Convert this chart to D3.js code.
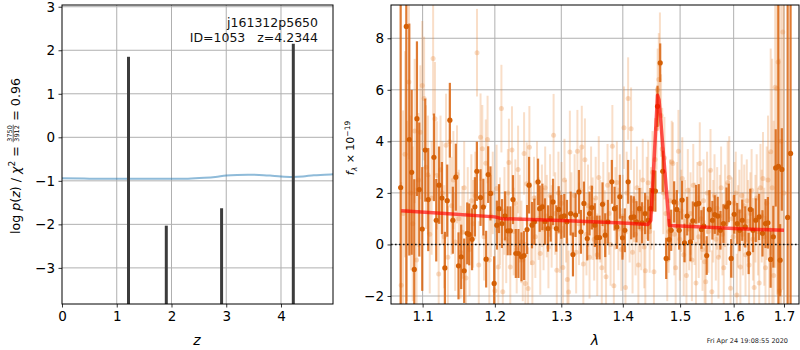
<!DOCTYPE html>
<html><head><meta charset="utf-8">
<script src="https://cdn.jsdelivr.net/npm/d3@7"></script>
<style>
body{margin:0;background:#fff}
svg{display:block;font-family:"DejaVu Sans",sans-serif}
</style>
</head><body>
<svg id="chart" width="800" height="350"></svg>
<script>
// ---------- redshift panel ----------
// chi^2 curve (scaled), sampled in z
const chiZ   = [0, 0.5, 1.0, 1.5, 2.0, 2.3, 2.6, 2.8, 3.0, 3.2, 3.4, 3.6, 3.8, 4.0, 4.2, 4.4, 4.6, 4.8, 4.95];
const chiVal = [-0.94, -0.95, -0.955, -0.955, -0.955, -0.95, -0.93, -0.91, -0.88, -0.865, -0.86, -0.865, -0.88, -0.9, -0.91, -0.9, -0.87, -0.86, -0.85];
// log p(z) peaks
const peakZ    = [1.215, 1.905, 2.915, 4.225];
const peakLogP = [1.85, -2.03, -1.63, 2.15];
const zTicks = [0, 1, 2, 3, 4];
const pTicks = [-3, -2, -1, 0, 1, 2, 3];

// ---------- spectrum panel ----------
// binned spectrum: [wavelength (um), flux, error]
const darkSpec = [
[1.0713,2.21,20],[1.0786,8.46,20],[1.0825,4.07,4.5],[1.0856,2.80,3.2],[1.0890,-0.97,3.5],[1.0925,4.88,3.0],[1.0956,2.13,2.6],[1.0995,0.60,2.4],[1.1035,3.66,2.0],[1.1075,1.74,2.0],
[1.1151,3.38,1.7],[1.1182,0.94,1.6],[1.1220,2.30,1.5],[1.1259,1.80,1.4],[1.1299,-0.91,1.4],[1.1331,1.70,1.4],[1.1367,4.82,1.45],[1.1408,0.94,1.3],[1.1449,2.61,1.3],[1.1486,-0.83,1.3],
[1.1523,-0.48,1.25],[1.1565,-1.02,1.25],[1.1607,0.43,1.2],[1.1635,0.39,1.2],[1.1675,0.20,1.2],[1.1715,1.46,1.15],[1.1743,2.84,1.15],[1.1795,1.82,1.1],[1.1835,1.45,1.1],[1.1875,-0.57,1.1],
[1.1904,2.71,1.1],[1.1937,1.98,1.05],[1.1990,-1.51,1.05],
[1.2029,0.75,0.95],[1.2060,1.39,0.95],[1.2104,0.81,0.95],[1.2148,1.11,0.95],[1.2187,0.53,0.95],[1.2226,0.53,0.95],[1.2265,1.74,0.95],[1.2307,-0.35,0.95],[1.2346,-0.35,0.95],[1.2391,-0.48,0.95],
[1.2430,-0.43,0.95],[1.2475,0.58,0.95],[1.2505,2.30,1.1],[1.2550,0.75,0.9],[1.2585,0.88,0.9],[1.2641,2.43,0.9],[1.2666,1.39,0.9],[1.2707,1.46,0.9],[1.2747,0.89,0.9],[1.2794,0.62,0.9],
[1.2835,1.01,0.9],[1.2871,1.65,0.9],[1.2922,0.62,0.9],[1.2959,1.36,0.9],[1.3000,1.07,0.85],[1.3047,1.11,0.85],[1.3089,0.88,0.85],[1.3147,1.20,0.85],[1.3184,-0.39,0.85],[1.3226,1.14,0.85],
[1.3279,2.04,0.85],[1.3311,0.49,0.85],[1.3359,1.59,0.85],[1.3413,0.23,0.85],[1.3450,1.20,0.85],[1.3488,1.43,0.85],[1.3536,0.75,0.85],[1.3569,0.27,0.85],[1.3613,0.27,0.85],[1.3662,1.56,0.85],
[1.3706,0.36,0.85],[1.3750,0.88,0.85],[1.3816,2.43,0.85],[1.3861,1.39,0.85],[1.3899,0.68,0.85],[1.3950,1.85,0.85],[1.3994,0.26,0.85],[1.4034,0.55,0.85],[1.4090,2.43,0.85],[1.4141,1.05,0.85],
[1.4186,1.07,0.8],[1.4232,0.88,0.8],[1.4283,1.39,0.8],[1.4329,0.84,0.8],[1.4381,1.20,0.8],[1.4433,0.94,0.8],[1.4473,1.39,0.8],[1.4519,2.08,0.8],[1.4560,2.07,0.8],[1.4598,5.36,0.8],
[1.4645,7.05,0.75],[1.4690,2.84,0.8],[1.4751,-0.54,0.8],[1.4804,0.19,0.8],[1.4840,0.55,0.8],[1.4893,1.65,0.8],[1.4941,1.36,0.75],[1.4983,0.55,0.75],[1.5037,1.72,0.75],[1.5079,0.06,0.75],
[1.5128,1.10,0.75],[1.5188,0.10,0.75],[1.5231,0.92,0.75],[1.5292,1.56,0.75],[1.5341,1.59,0.75],[1.5390,0.58,0.75],[1.5434,0.71,0.75],[1.5489,-0.43,0.75],[1.5539,1.36,0.75],[1.5595,0.94,0.75],
[1.5640,1.16,0.75],[1.5696,1.10,0.75],[1.5747,0.55,0.75],[1.5804,0.81,0.75],[1.5862,1.46,0.75],[1.5906,1.61,0.75],[1.5952,-0.54,0.75],[1.6010,1.17,0.75],[1.6068,0.81,0.8],[1.6114,0.55,0.8],
[1.6166,0.94,0.8],[1.6225,0.68,0.8],[1.6291,-0.35,0.8],[1.6324,1.36,0.8],[1.6377,0.55,0.85],[1.6431,0.94,0.85],[1.6498,1.07,0.9],[1.6565,0.43,0.9],[1.6626,0.81,0.95],[1.6674,0.84,1.0],
[1.6728,-0.58,1.1],[1.6783,0.30,1.2],[1.6831,2.97,1.5],[1.6886,3.03,20],[1.6921,-0.61,1.4],[1.6956,2.91,1.6],[1.7075,1.05,20],[1.7135,3.53,20]
];
// native-resolution spectrum: [wavelength (um), flux, error]
const lightSpec = [
[1.0720,-1.58,4],[1.0745,1.2,4],[1.0770,3.5,4],[1.0795,1.3,3.5],[1.0820,6.3,3],[1.0845,2.0,3],[1.0870,0.8,3],[1.0895,4.4,2.8],[1.0920,-0.6,2.8],[1.0945,2.5,2.6],
[1.0970,4.35,2.6],[1.0995,6.17,2.5],[1.1020,5.66,2.4],[1.1045,3.0,2.4],[1.1070,2.7,2.3],[1.1095,0.4,2.3],[1.1120,1.8,2.2],[1.1140,7.21,2.2],[1.1165,4.88,2.2],[1.1190,2.68,2.1],
[1.1215,-1.15,2.1],[1.1240,2.9,2.1],[1.1265,2.0,2.0],[1.1290,0.3,2.0],[1.1315,3.85,2.0],[1.1340,-0.5,2.0],[1.1365,3.98,2.0],[1.1390,1.5,1.9],[1.1415,2.5,1.9],[1.1440,0.1,1.9],
[1.1465,2.72,1.9],[1.1490,1.0,1.9],[1.1515,-0.3,1.8],[1.1540,0.47,1.8],[1.1565,2.2,1.8],[1.1590,-1.3,1.8],[1.1615,1.2,1.8],[1.1640,-0.2,1.8],[1.1665,1.7,1.8],[1.1690,0.8,1.7],
[1.1720,1.9,1.7],[1.1745,7.44,1.7],[1.1770,-0.8,1.7],[1.1795,4.16,1.7],[1.1820,3.71,1.7],[1.1845,0.3,1.7],[1.1870,3.15,1.7],[1.1895,4.07,1.7],[1.1920,-0.6,1.7],[1.1945,1.1,1.6],
[1.1970,2.0,1.6],[1.2000,-1.8,1.6],[1.2025,2.17,1.7],[1.2050,-0.87,1.7],[1.2075,0.9,1.7],[1.2095,5.27,1.7],[1.2115,-1.83,1.7],[1.2140,1.3,1.7],[1.2165,0.2,1.7],[1.2190,2.0,1.7],
[1.2205,3.18,1.7],[1.2225,-0.87,1.7],[1.2250,3.66,1.7],[1.2275,0.5,1.7],[1.2300,1.6,1.7],[1.2320,-0.2,1.7],[1.2340,2.91,1.7],[1.2365,1.0,1.7],[1.2390,0.1,1.6],[1.2410,-0.6,1.6],
[1.2430,3.53,1.6],[1.2450,-1.51,1.6],[1.2470,2.36,1.6],[1.2490,-1.71,1.6],[1.2510,3.77,1.6],[1.2535,0.8,1.6],[1.2555,-0.71,1.6],[1.2580,1.8,1.6],[1.2600,0.3,1.6],[1.2625,2.4,1.6],
[1.2650,1.0,1.6],[1.2675,-0.35,1.6],[1.2700,1.5,1.6],[1.2725,0.6,1.6],[1.2750,2.2,1.6],[1.2775,1.1,1.6],[1.2800,-0.1,1.6],[1.2825,1.9,1.6],[1.2850,0.7,1.6],[1.2880,4.24,1.6],
[1.2905,1.2,1.6],[1.2930,-1.0,1.6],[1.2955,2.0,1.6],[1.2980,0.5,1.6],[1.3005,1.6,1.6],[1.3025,-0.89,1.6],[1.3050,2.5,1.6],[1.3075,0.9,1.6],[1.3095,-1.36,1.6],[1.3115,-1.84,1.6],
[1.3135,3.59,1.6],[1.3160,1.2,1.6],[1.3185,0.4,1.6],[1.3210,1.9,1.6],[1.3235,-0.3,1.6],[1.3255,3.62,1.6],[1.3280,0.8,1.6],[1.3305,2.1,1.6],[1.3325,3.78,1.6],[1.3350,-0.76,1.6],
[1.3375,3.29,1.6],[1.3400,0.4,1.6],[1.3425,1.5,1.6],[1.3450,-0.5,1.6],[1.3475,2.2,1.6],[1.3500,1.0,1.6],[1.3525,0.2,1.6],[1.3550,1.8,1.6],[1.3575,-0.4,1.6],[1.3600,2.6,1.6],
[1.3625,0.9,1.6],[1.3650,-0.9,1.6],[1.3675,1.6,1.6],[1.3700,0.5,1.6],[1.3720,-1.25,1.6],[1.3745,2.3,1.6],[1.3770,1.2,1.6],[1.3795,0.0,1.6],[1.3825,3.81,1.6],[1.3850,-1.6,1.6],
[1.3875,1.4,1.6],[1.3900,2.4,1.6],[1.3925,0.6,1.6],[1.3950,1.9,1.6],[1.3975,-0.2,1.6],[1.4000,1.1,1.6],[1.4020,4.53,1.6],[1.4045,-1.67,1.6],[1.4065,2.0,1.6],[1.4090,5.66,1.6],
[1.4115,0.9,1.6],[1.4140,4.49,1.6],[1.4165,-0.3,1.6],[1.4190,1.7,1.6],[1.4215,0.4,1.6],[1.4240,2.2,1.6],[1.4265,-0.8,1.6],[1.4290,1.3,1.6],[1.4315,0.6,1.6],[1.4340,2.5,1.6],
[1.4365,-0.1,1.6],[1.4385,-1.02,1.6],[1.4410,1.8,1.6],[1.4435,2.39,1.6],[1.4460,0.5,1.6],[1.4485,1.4,1.6],[1.4510,2.8,1.6],[1.4535,-1.06,1.6],[1.4555,3.3,1.6],[1.4580,4.5,1.6],
[1.4600,6.0,1.6],[1.4620,6.4,1.8],[1.4640,7.0,2.0],[1.4660,5.0,1.6],[1.4680,3.7,1.6],[1.4700,2.0,1.6],[1.4720,3.35,1.6],[1.4745,1.2,1.6],[1.4770,-0.6,1.6],[1.4795,0.5,1.6],
[1.4820,1.7,1.6],[1.4850,3.2,1.6],[1.4870,3.14,1.6],[1.4895,0.4,1.6],[1.4920,-0.9,1.6],[1.4945,1.6,1.6],[1.4970,3.62,1.6],[1.4995,0.2,1.6],[1.5020,1.3,1.6],[1.5040,2.56,1.6],
[1.5065,-0.4,1.6],[1.5090,0.9,1.6],[1.5115,-1.2,1.6],[1.5140,2.1,1.6],[1.5165,0.6,1.6],[1.5190,1.2,1.6],[1.5215,-0.6,1.6],[1.5240,2.3,1.6],[1.5265,0.8,1.6],[1.5290,-1.5,1.6],
[1.5315,1.6,1.6],[1.5340,0.3,1.6],[1.5360,3.14,1.6],[1.5385,1.0,1.6],[1.5410,-0.2,1.6],[1.5430,1.7,1.6],[1.5450,-0.67,1.6],[1.5470,-1.45,1.6],[1.5495,2.0,1.6],[1.5520,0.5,1.6],
[1.5545,1.3,1.6],[1.5560,2.88,1.6],[1.5585,-1.83,1.6],[1.5610,0.9,1.6],[1.5635,1.9,1.6],[1.5660,0.2,1.6],[1.5685,1.4,1.6],[1.5710,-0.5,1.6],[1.5735,1.1,1.6],[1.5760,2.2,1.6],
[1.5785,0.4,1.6],[1.5810,-0.9,1.6],[1.5835,1.5,1.6],[1.5860,0.8,1.6],[1.5885,2.4,1.6],[1.5915,2.6,1.6],[1.5940,-1.7,1.6],[1.5965,1.0,1.6],[1.5990,0.3,1.6],[1.6015,1.6,1.6],
[1.6040,2.0,1.6],[1.6060,-1.96,1.6],[1.6085,0.7,1.6],[1.6110,1.3,1.6],[1.6130,-0.87,1.6],[1.6155,1.9,1.6],[1.6180,0.4,1.6],[1.6205,1.5,1.6],[1.6230,-0.4,1.6],[1.6255,1.7,1.6],
[1.6280,0.9,1.6],[1.6300,-0.8,1.6],[1.6325,1.2,1.6],[1.6350,2.1,1.6],[1.6375,0.2,1.6],[1.6400,-1.67,1.7],[1.6425,1.0,1.7],[1.6450,1.8,1.7],[1.6475,0.5,1.7],[1.6500,-1.5,1.7],
[1.6525,2.2,1.7],[1.6550,1.1,1.8],[1.6575,2.56,1.8],[1.6600,0.3,1.9],[1.6625,-0.9,2.0],[1.6650,1.6,2.2],[1.6675,2.5,2.5],[1.6700,0.6,3.0],[1.6730,3.6,4],[1.6760,2.2,5],
[1.6790,-1.2,6],[1.6820,6.1,7],[1.6855,6.05,8],[1.6880,7.08,9],[1.6910,-1.8,9],[1.6940,4.0,9],[1.6975,8.24,10],[1.7000,2.0,10]
];
// best-fit template
const modelWave = [1.072, 1.13, 1.20, 1.21, 1.30, 1.40, 1.443, 1.448, 1.4598, 1.4625, 1.4805, 1.55, 1.60, 1.65, 1.70];
const modelFlux = [1.31, 1.20, 1.07, 1.00, 0.93, 0.83, 0.77, 0.93, 5.79, 5.60, 0.74, 0.67, 0.62, 0.58, 0.55];
const lamTicks = [1.1, 1.2, 1.3, 1.4, 1.5, 1.6, 1.7];
const fTicks = [-2, 0, 2, 4, 6, 8];

const svg = d3.select("#chart");
const TICK_FS = 13.5;
const GRID = "#b0b0b0";

// ---------------- left panel ----------------
const L = {x0: 62, x1: 333, y0: 5, y1: 304};
const xZ = d3.scaleLinear().domain([0, 4.95]).range([L.x0, L.x1]);
const yP = d3.scaleLinear().domain([-3.83, 3.04]).range([L.y1, L.y0]);

const gl = svg.append("g");
gl.append("clipPath").attr("id", "clipL").append("rect")
  .attr("x", L.x0).attr("y", L.y0).attr("width", L.x1 - L.x0).attr("height", L.y1 - L.y0);

// grid
gl.append("g").selectAll("line").data(zTicks.slice(1)).join("line")
  .attr("x1", d => xZ(d)).attr("x2", d => xZ(d)).attr("y1", L.y0).attr("y2", L.y1)
  .attr("stroke", GRID).attr("stroke-width", 1);
gl.append("g").selectAll("line").data(pTicks).join("line")
  .attr("y1", d => yP(d)).attr("y2", d => yP(d)).attr("x1", L.x0).attr("x2", L.x1)
  .attr("stroke", GRID).attr("stroke-width", 1);

const plotL = gl.append("g").attr("clip-path", "url(#clipL)");
// chi^2 curve
plotL.append("path")
  .attr("d", d3.line().x((d, i) => xZ(chiZ[i])).y(d => yP(d)).curve(d3.curveMonotoneX)(chiVal))
  .attr("fill", "none").attr("stroke", "#1f77b4").attr("stroke-opacity", 0.5).attr("stroke-width", 2);
// p(z) peaks
plotL.append("g").selectAll("line").data(peakZ).join("line")
  .attr("x1", d => xZ(d)).attr("x2", d => xZ(d))
  .attr("y1", yP(-3.83)).attr("y2", (d, i) => yP(peakLogP[i]))
  .attr("stroke", "#3c3c3c").attr("stroke-width", 3);

// axes
gl.append("g").attr("transform", `translate(0,${L.y1})`)
  .call(d3.axisBottom(xZ).tickValues(zTicks).tickSize(3.5).tickPadding(3.5).tickFormat(d3.format("d")));
gl.append("g").attr("transform", `translate(${L.x0},0)`)
  .call(d3.axisLeft(yP).tickValues(pTicks).tickSize(3.5).tickPadding(3.5).tickFormat(d3.format("d")));
gl.append("rect").attr("x", L.x0).attr("y", L.y0).attr("width", L.x1 - L.x0).attr("height", L.y1 - L.y0)
  .attr("fill", "none").attr("stroke", "#000").attr("stroke-width", 1);

// object info
const info = gl.append("text").attr("text-anchor", "end").attr("font-size", 12.5).attr("fill", "#111");
info.append("tspan").attr("x", 318).attr("y", 27).text("j161312p5650");
info.append("tspan").attr("x", 318).attr("y", 42).attr("xml:space", "preserve").text("ID=1053   z=4.2344");

gl.append("text").attr("x", 197).attr("y", 345).attr("text-anchor", "middle")
  .attr("font-size", 14).attr("font-style", "italic").text("z");

// y label with a stacked fraction
{
  const outer = gl.append("g").attr("transform", "translate(20,156) rotate(-90)");
  const g = outer.append("g");
  const t1 = g.append("text").attr("font-size", 12.6);
  t1.append("tspan").text("log ");
  t1.append("tspan").attr("font-style", "italic").text("p");
  t1.append("tspan").text("(");
  t1.append("tspan").attr("font-style", "italic").text("z");
  t1.append("tspan").text(") / ");
  t1.append("tspan").attr("font-style", "italic").text("χ");
  t1.append("tspan").attr("font-size", 9).attr("dy", -5.2).text("2");
  t1.append("tspan").attr("dy", 5.2).text("\u00a0=\u00a0");
  const w1 = t1.node().getComputedTextLength();
  const num = g.append("text").attr("font-size", 6.5).attr("text-anchor", "middle").attr("y", -8).text("3750");
  const den = g.append("text").attr("font-size", 6.5).attr("text-anchor", "middle").attr("y", -1.5).text("3912");
  const fw = Math.max(num.node().getComputedTextLength(), den.node().getComputedTextLength()) + 1;
  num.attr("x", w1 + fw / 2);
  den.attr("x", w1 + fw / 2);
  g.append("line").attr("x1", w1).attr("x2", w1 + fw).attr("y1", -6.8).attr("y2", -6.8)
    .attr("stroke", "#000").attr("stroke-width", 0.6);
  const t2 = g.append("text").attr("font-size", 12.6).attr("x", w1 + fw).text("\u00a0=\u00a00.96");
  const W = w1 + fw + t2.node().getComputedTextLength();
  g.attr("transform", `translate(${-W / 2},0)`);
}

// ---------------- right panel ----------------
const R = {x0: 391, x1: 799, y0: 5, y1: 304};
const xL = d3.scaleLog().domain([1.0589, 1.731]).range([R.x0, R.x1]);
const yF = d3.scaleLinear().domain([-2.31, 9.29]).range([R.y1, R.y0]);

const gr = svg.append("g");
gr.append("clipPath").attr("id", "clipR").append("rect")
  .attr("x", R.x0).attr("y", R.y0).attr("width", R.x1 - R.x0).attr("height", R.y1 - R.y0);

gr.append("g").selectAll("line").data(lamTicks).join("line")
  .attr("x1", d => xL(d)).attr("x2", d => xL(d)).attr("y1", R.y0).attr("y2", R.y1)
  .attr("stroke", GRID).attr("stroke-width", 1);
gr.append("g").selectAll("line").data(fTicks).join("line")
  .attr("y1", d => yF(d)).attr("y2", d => yF(d)).attr("x1", R.x0).attr("x2", R.x1)
  .attr("stroke", GRID).attr("stroke-width", 1);

const plotR = gr.append("g").attr("clip-path", "url(#clipR)");
const ORANGE = "#d9640f";

// native-resolution points
const lg = plotR.append("g");
lg.selectAll("line").data(lightSpec).join("line")
  .attr("x1", d => xL(d[0])).attr("x2", d => xL(d[0]))
  .attr("y1", d => yF(d[1] - d[2])).attr("y2", d => yF(d[1] + d[2]))
  .attr("stroke", "#e8883a").attr("stroke-opacity", 0.28).attr("stroke-width", 2);
lg.selectAll("circle").data(lightSpec).join("circle")
  .attr("cx", d => xL(d[0])).attr("cy", d => yF(d[1])).attr("r", 2.5)
  .attr("fill", "#e8883a").attr("fill-opacity", 0.3);

// binned points
const dg = plotR.append("g");
dg.selectAll("line").data(darkSpec).join("line")
  .attr("x1", d => xL(d[0])).attr("x2", d => xL(d[0]))
  .attr("y1", d => yF(d[1] - d[2])).attr("y2", d => yF(d[1] + d[2]))
  .attr("stroke", ORANGE).attr("stroke-opacity", 0.85).attr("stroke-width", 2.2);
dg.selectAll("circle").data(darkSpec).join("circle")
  .attr("cx", d => xL(d[0])).attr("cy", d => yF(d[1])).attr("r", 2.6)
  .attr("fill", "#d45f05");

// template
plotR.append("path")
  .attr("d", d3.line().x((d, i) => xL(modelWave[i])).y(d => yF(d))(modelFlux))
  .attr("fill", "none").attr("stroke", "#ff0000").attr("stroke-opacity", 0.65)
  .attr("stroke-width", 3.5).attr("stroke-linejoin", "round");

// zero level
plotR.append("line").attr("x1", R.x0).attr("x2", R.x1).attr("y1", yF(0)).attr("y2", yF(0))
  .attr("stroke", "#111").attr("stroke-width", 1.6).attr("stroke-dasharray", "1.6,2.4");

gr.append("g").attr("transform", `translate(0,${R.y1})`)
  .call(d3.axisBottom(xL).tickValues(lamTicks).tickSize(3.5).tickPadding(3.5).tickFormat(d3.format(".1f")));
gr.append("g").attr("transform", `translate(${R.x0},0)`)
  .call(d3.axisLeft(yF).tickValues(fTicks).tickSize(3.5).tickPadding(3.5).tickFormat(d3.format("d")));
gr.append("rect").attr("x", R.x0).attr("y", R.y0).attr("width", R.x1 - R.x0).attr("height", R.y1 - R.y0)
  .attr("fill", "none").attr("stroke", "#000").attr("stroke-width", 1);

gr.append("text").attr("x", 595).attr("y", 345).attr("text-anchor", "middle")
  .attr("font-size", 14).attr("font-style", "italic").text("λ");

// flux label
{
  const outer = gr.append("g").attr("transform", "translate(354,148) rotate(-90)");
  const t = outer.append("text").attr("font-size", 11);
  t.append("tspan").attr("font-style", "italic").text("f");
  t.append("tspan").attr("font-style", "italic").attr("font-size", 7.5).attr("dy", 2.5).text("λ");
  t.append("tspan").attr("dy", -2.5).text("\u00a0×\u00a010");
  t.append("tspan").attr("font-size", 7.5).attr("dy", -4.5).text("−19");
  const W = t.node().getComputedTextLength();
  t.attr("x", -W / 2);
}

svg.selectAll(".tick text").attr("font-size", TICK_FS).attr("font-family", "DejaVu Sans").attr("fill", "#000");
svg.selectAll(".domain").remove();
svg.selectAll(".tick line").attr("stroke", "#000").attr("stroke-width", 0.8);

// timestamp
svg.append("text").attr("x", 788).attr("y", 343).attr("text-anchor", "end")
  .attr("font-size", 6.5).attr("fill", "#222").text("Fri Apr 24 19:08:55 2020");
</script>
</body></html>
